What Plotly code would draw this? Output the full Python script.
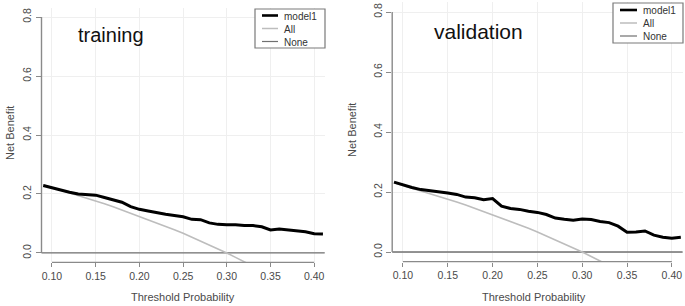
import plotly.graph_objects as go

W, H = 685, 306

# ---------------- data ----------------
thresholds = [0.09, 0.10, 0.11, 0.12, 0.13, 0.14, 0.15, 0.16, 0.17, 0.18, 0.19,
              0.20, 0.21, 0.22, 0.23, 0.24, 0.25, 0.26, 0.27, 0.28, 0.29, 0.30,
              0.31, 0.32, 0.33, 0.34, 0.35, 0.36, 0.37, 0.38, 0.39, 0.40, 0.41]

train_model1 = [0.229, 0.221, 0.212, 0.206, 0.200, 0.198, 0.196, 0.188, 0.181, 0.172, 0.157,
                0.148, 0.142, 0.136, 0.131, 0.127, 0.123, 0.114, 0.113, 0.102, 0.097, 0.096,
                0.096, 0.093, 0.093, 0.089, 0.078, 0.081, 0.078, 0.077, 0.072, 0.065, 0.064]

valid_model1 = [0.233, 0.223, 0.215, 0.208, 0.205, 0.201, 0.197, 0.192, 0.183, 0.181, 0.174,
                0.178, 0.153, 0.145, 0.142, 0.136, 0.132, 0.125, 0.113, 0.109, 0.106, 0.110,
                0.108, 0.102, 0.098, 0.086, 0.066, 0.067, 0.070, 0.056, 0.049, 0.046, 0.049]

all_thresholds = [0.09, 0.10, 0.11, 0.12, 0.13, 0.14, 0.15, 0.16, 0.17, 0.18, 0.19,
                  0.20, 0.21, 0.22, 0.23, 0.24, 0.25, 0.26, 0.27, 0.28, 0.29, 0.30,
                  0.31, 0.32, 0.33, 0.34]
all_nb = [0.231, 0.222, 0.214, 0.205, 0.195, 0.186, 0.177, 0.167, 0.157, 0.146, 0.136,
          0.125, 0.114, 0.103, 0.091, 0.079, 0.067, 0.054, 0.041, 0.028, 0.014, 0.000,
          -0.015, -0.029, -0.045, -0.061]

none_thresholds = [0.08, 0.42]
none_nb = [0.0, 0.0]

x_ticks = [0.10, 0.15, 0.20, 0.25, 0.30, 0.35, 0.40]
x_ticklabels = ["0.10", "0.15", "0.20", "0.25", "0.30", "0.35", "0.40"]
y_ticks = [0.0, 0.2, 0.4, 0.6, 0.8]
y_ticklabels = ["0.0", "0.2", "0.4", "0.6", "0.8"]
panel_titles = ["training", "validation"]
legend_labels = ["model1", "All", "None"]

# ---------------- styling helpers ----------------
FONT = "Liberation Sans"
TXT = "#4a4a4a"
AXC = "#8a8a8a"
GRID = "#efefef"
MODEL_C, ALL_C, NONE_C = "#000000", "#bdbdbd", "#707070"
LEG_FONT = 10
LEG_STEP = 1.3 * LEG_FONT   # plotly multi-line spacing

def fx(p):
    return p / W

def fy(p):
    return 1 - p / H

panels = [
    dict(xd=[fx(41.5), fx(324.7)], yd=[fy(262.4), fy(7.6)], model=train_model1,
         title_xy=(76, 35), title_size=20,
         ytitle_x=10, ytitle_y=133, xtitle_x=183, xtitle_y=297,
         leg=(255, 9, 325, 48), leg_line=(262, 278), leg_mid=28.5, leg_text=283),
    dict(xd=[fx(392.2), fx(682.6)], yd=[fy(261.6), fy(2.4)], model=valid_model1,
         title_xy=(432, 32), title_size=21,
         ytitle_x=352, ytitle_y=130, xtitle_x=534, xtitle_y=297,
         leg=(613, 3, 683, 43), leg_line=(620, 637), leg_mid=23, leg_text=642),
]

fig = go.Figure()
shapes, annotations = [], []
layout = dict(width=W, height=H, margin=dict(l=0, r=0, t=0, b=0),
              paper_bgcolor="white", plot_bgcolor="white", showlegend=False,
              font=dict(family=FONT, color=TXT))

for i, pn in enumerate(panels):
    sfx = "" if i == 0 else str(i + 1)
    xa, ya = "x" + sfx, "y" + sfx
    fig.add_trace(go.Scatter(x=none_thresholds, y=none_nb, mode="lines", xaxis=xa, yaxis=ya,
                             line=dict(color=NONE_C, width=1.3), name="None"))
    fig.add_trace(go.Scatter(x=all_thresholds, y=all_nb, mode="lines", xaxis=xa, yaxis=ya,
                             line=dict(color=ALL_C, width=1.6), name="All"))
    fig.add_trace(go.Scatter(x=thresholds, y=pn["model"], mode="lines", xaxis=xa, yaxis=ya,
                             line=dict(color=MODEL_C, width=3), name="model1"))

    layout["xaxis" + sfx] = dict(domain=pn["xd"], anchor=ya, range=[0.088, 0.412],
                                 tickvals=x_ticks, ticktext=x_ticklabels, ticks="outside",
                                 ticklen=4, tickcolor=AXC, tickwidth=1.2,
                                 showgrid=True, gridcolor=GRID, gridwidth=1,
                                 zeroline=False, showline=False, automargin=False,
                                 tickfont=dict(size=10.5, color=TXT, family=FONT))
    layout["yaxis" + sfx] = dict(domain=pn["yd"], anchor=xa, range=[-0.032, 0.832],
                                 tickvals=y_ticks, ticktext=y_ticklabels, ticks="outside",
                                 ticklen=5, tickcolor=AXC, tickwidth=1.2, tickangle=-90,
                                 showgrid=True, gridcolor=GRID, gridwidth=1,
                                 zeroline=False, showline=False, automargin=False,
                                 tickfont=dict(size=10.5, color=TXT, family=FONT))

    # R-style axis lines spanning the tick range
    shapes.append(dict(type="line", xref="paper", yref=ya, x0=pn["xd"][0], x1=pn["xd"][0],
                       y0=y_ticks[0], y1=y_ticks[-1], line=dict(color=AXC, width=1.4)))
    shapes.append(dict(type="line", xref=xa, yref="paper", x0=x_ticks[0], x1=x_ticks[-1],
                       y0=pn["yd"][0], y1=pn["yd"][0], line=dict(color=AXC, width=1.4)))

    # panel title
    tx, ty = pn["title_xy"]
    annotations.append(dict(x=fx(tx), y=fy(ty), xref="paper", yref="paper", text=panel_titles[i],
                            showarrow=False, xanchor="left", yanchor="middle",
                            font=dict(size=pn["title_size"], color="#111111", family=FONT)))
    # axis titles
    annotations.append(dict(x=fx(pn["ytitle_x"]), y=fy(pn["ytitle_y"]), xref="paper", yref="paper",
                            text="Net Benefit", textangle=-90, showarrow=False,
                            xanchor="center", yanchor="middle",
                            font=dict(size=11, color=TXT, family=FONT)))
    annotations.append(dict(x=fx(pn["xtitle_x"]), y=fy(pn["xtitle_y"]), xref="paper", yref="paper",
                            text="Threshold Probability", showarrow=False,
                            xanchor="center", yanchor="middle",
                            font=dict(size=11, color=TXT, family=FONT)))

    # legend box (drawn by hand, R style)
    lx0, ly0, lx1, ly1 = pn["leg"]
    shapes.append(dict(type="rect", xref="paper", yref="paper", x0=fx(lx0), x1=fx(lx1),
                       y0=fy(ly1), y1=fy(ly0), line=dict(color="#7a7a7a", width=1.2),
                       fillcolor="white", layer="above"))
    styles = [(MODEL_C, 2.6), (ALL_C, 1.5), (NONE_C, 1.2)]
    mid = pn["leg_mid"]
    for k, (col, wd) in enumerate(styles):
        row = mid + (k - 1) * LEG_STEP
        shapes.append(dict(type="line", xref="paper", yref="paper",
                           x0=fx(pn["leg_line"][0]), x1=fx(pn["leg_line"][1]),
                           y0=fy(row), y1=fy(row), line=dict(color=col, width=wd)))
    annotations.append(dict(x=fx(pn["leg_text"]), y=fy(mid + 0.5), xref="paper", yref="paper",
                            text="<br>".join(legend_labels), showarrow=False, align="left",
                            xanchor="left", yanchor="middle", borderpad=0,
                            font=dict(size=LEG_FONT, color="#333333", family=FONT)))

layout["shapes"] = shapes
layout["annotations"] = annotations
fig.update_layout(**layout)
fig.write_html("out.html",
               config={"displayModeBar": False},
               post_script="document.body.style.margin='0';document.body.style.overflow='hidden';")
